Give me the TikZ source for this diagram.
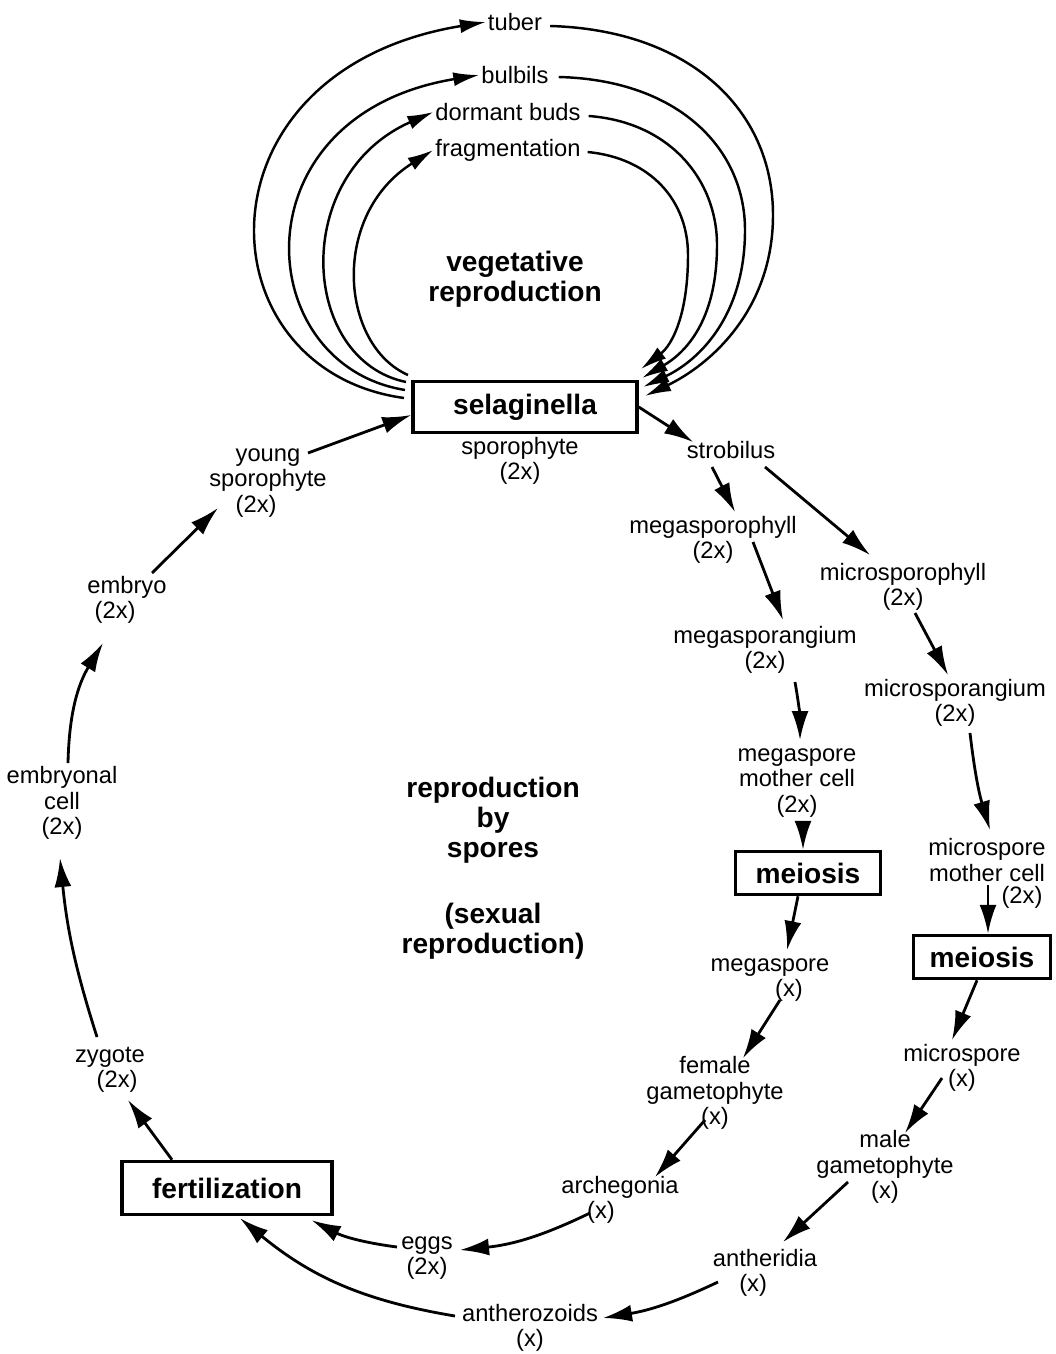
\documentclass[tikz,border=0pt]{standalone}
\usepackage{fontspec}
\setmainfont{Liberation Sans}
\usetikzlibrary{arrows.meta,positioning,calc}

\begin{document}
\begin{tikzpicture}[x=0.02cm,y=-0.02cm,
		lab/.style={font=\fontsize{13.5}{14.5}\selectfont,align=center,inner sep=1pt},
		big/.style={font=\fontsize{16}{17}\selectfont\bfseries,align=center},
		stage/.style={draw,line width=2pt,font=\fontsize{16}{17}\selectfont\bfseries,inner sep=0pt},
		arr/.style={-{Latex[length=5.8mm,width=3.4mm]},line width=1.6pt},
		veg/.style={-{Latex[length=5.2mm,width=2.8mm]},line width=1.4pt}
		]
		
		\useasboundingbox (0,0) rectangle (1055,1354);
		
		% --- vegetative reproduction (top)
		\node[lab] (tuber) at (515,22) {tuber};
		\node[lab] (bulb) at (515,75) {bulbils};
		\node[lab] (dorm) at (508,112) {dormant buds};
		\node[lab] (frag) at (508,150) {fragmentation};
		\node[big] (veg) at (515,279) {vegetative\\reproduction};
		
		\node[stage,minimum width=4.48cm,minimum height=1.02cm] (sela) at (525,407) {selaginella};
		\node[lab] (spor) at (520,461) {sporophyte\\(2x)};
		
		% end points of the arcs at the box corners
		\coordinate (vl1) at (404,398);
		\coordinate (vl2) at (405,390);
		\coordinate (vl3) at (406,382);
		\coordinate (vl4) at (408,375);
		\coordinate (vr1) at (645,396);
		\coordinate (vr2) at (643,387);
		\coordinate (vr3) at (642,378);
		\coordinate (vr4) at (641,369);
		
		\draw[veg] (vl1) .. controls (200,370) and (190,70) .. (tuber.west);
		\draw[veg] (vl2) .. controls (250,365) and (235,115) .. (bulb.west);
		\draw[veg] (vl3) .. controls (300,360) and (290,175) .. (dorm.west);
		\draw[veg] (vl4) .. controls (340,345) and (330,215) .. (frag.west);
		
		\draw[veg] ($(tuber.east)+(6,4)$) .. controls (690,30) and (773,110) .. (773,215)
		.. controls (773,310) and (710,365) .. (vr1);
		\draw[veg] ($(bulb.east)+(8,2)$) .. controls (680,80) and (745,150) .. (745,230)
		.. controls (745,315) and (700,360) .. (vr2);
		\draw[veg] ($(dorm.east)+(6,4)$) .. controls (670,122) and (717,180) .. (717,245)
		.. controls (717,315) and (690,350) .. (vr3);
		\draw[veg] ($(frag.east)+(5,2)$) .. controls (650,158) and (688,200) .. (688,255)
		.. controls (688,315) and (672,345) .. (vr4);
		
		% --- spore forming branch (right)
		\node[lab] (strob) at (731,450) {strobilus};
		\node[lab] (megaphyll) at (713,540) {megasporophyll\\(2x)};
		\node[lab] (microphyll) at (903,587) {microsporophyll\\(2x)};
		\node[lab] (megaang) at (765,650) {megasporangium\\(2x)};
		\node[lab] (microang) at (955,703) {microsporangium\\(2x)};
		\node[lab] (megamc) at (797,783) {megaspore\\mother cell\\(2x)};
		\node[lab] (micromc) at (987,860) {microspore\\mother cell};
		\node[lab] (micromcx) at (1022,897) {(2x)};
		\node[stage,minimum width=2.9cm,minimum height=0.86cm] (meio1) at (808,873) {meiosis};
		\node[stage,minimum width=2.74cm,minimum height=0.86cm] (meio2) at (982,957) {meiosis};
		\node[lab] (megasp) at (770,980) {megaspore\\\hspace*{1.6em}(x)};
		\node[lab] (microsp) at (962,1068) {microspore\\(x)};
		\node[lab] (female) at (715,1093) {female\\gametophyte\\(x)};
		\node[lab] (male) at (885,1167) {male\\gametophyte\\(x)};
		\node[lab] (arch) at (620,1200) {archegonia\\\hspace*{-1.6em}(x)};
		\node[lab] (anth) at (765,1273) {antheridia\\\hspace*{-1em}(x)};
		\node[lab] (eggs) at (427,1258) {eggs\\(2x)};
		\node[lab] (antz) at (530,1328) {antherozoids\\(x)};
		
		% --- back to the sporophyte (left)
		\node[stage,minimum width=4.2cm,minimum height=1.06cm] (fert) at (227,1188) {fertilization};
		\node[lab] (zyg) at (110,1070) {zygote\\\hspace*{0.6em}(2x)};
		\node[lab] (embcell) at (62,803) {embryonal\\cell\\(2x)};
		\node[lab] (emb) at (127,600) {embryo\\\hspace*{-1em}(2x)};
		\node[lab] (young) at (268,483) {young\\sporophyte\\\hspace*{-1em}(2x)};
		
		\node[big] (spores) at (493,868) {reproduction\\by\\spores\\[1.3em](sexual\\reproduction)};
		
		% --- connectors
		\draw[arr] (sela.east) -- ($(strob)+(-38,-8)$);
		\draw[arr] ($(strob)+(-19,17)$) -- ($(megaphyll)+(22,-28)$);
		\draw[arr] ($(strob)+(34,17)$) -- ($(microphyll)+(-33,-32)$);
		\draw[arr] ($(megaphyll)+(40,2)$) -- ($(megaang)+(18,-30)$);
		\draw[arr] ($(microphyll)+(12,26)$) -- ($(microang)+(-7,-28)$);
		\draw[arr] ($(megaang)+(30,32)$) to[bend left=5] ($(megamc)+(3,-43)$);
		\draw[arr] ($(microang)+(15,30)$) to[bend right=5] ($(micromc)+(3,-30)$);
		\draw[arr] ($(megamc)+(6,38)$) -- ($(meio1.north)+(-5,0)$);
		\draw[arr] ($(micromc)+(1,25)$) -- ($(meio2.north)+(6,0)$);
		\draw[arr] ($(meio1.south)+(-10,0)$) -- ($(megasp)+(17,-30)$);
		\draw[arr] ($(meio2.south)+(-5,0)$) -- ($(microsp)+(-10,-28)$);
		\draw[arr] ($(megasp)+(10,20)$) -- ($(female)+(28,-35)$);
		\draw[arr] ($(microsp)+(-20,10)$) -- ($(male)+(20,-34)$);
		\draw[arr] ($(female)+(-10,27)$) -- ($(arch)+(35,-23)$);
		\draw[arr] ($(male)+(-37,15)$) -- ($(anth)+(18,-31)$);
		\draw[arr] ($(arch)+(-30,13)$) to[bend left=10] ($(eggs)+(33,-8)$);
		\draw[arr] ($(anth)+(-47,9)$) to[bend left=8] ($(antz)+(73,-10)$);
		\draw[arr] ($(eggs)+(-30,-11)$) to[bend left=10] ($(fert.south east)+(-22,4)$);
		\draw[arr] ($(antz)+(-75,-12)$) to[bend left=15] ($(fert.south)+(13,2)$);
		\draw[arr] ($(fert.north)+(-55,0)$) -- ($(zyg)+(18,30)$);
		\draw[arr] ($(zyg)+(-13,-33)$) to[bend left=6] ($(embcell)+(-2,55)$);
		\draw[arr] ($(embcell)+(6,-40)$) to[bend left=15] ($(emb)+(-24,43)$);
		\draw[arr] ($(emb)+(25,-27)$) -- ($(young)+(-50,25)$);
		\draw[arr] ($(young)+(40,-30)$) -- ($(sela.west)+(0,8)$);
		
	\end{tikzpicture}
\end{document}
